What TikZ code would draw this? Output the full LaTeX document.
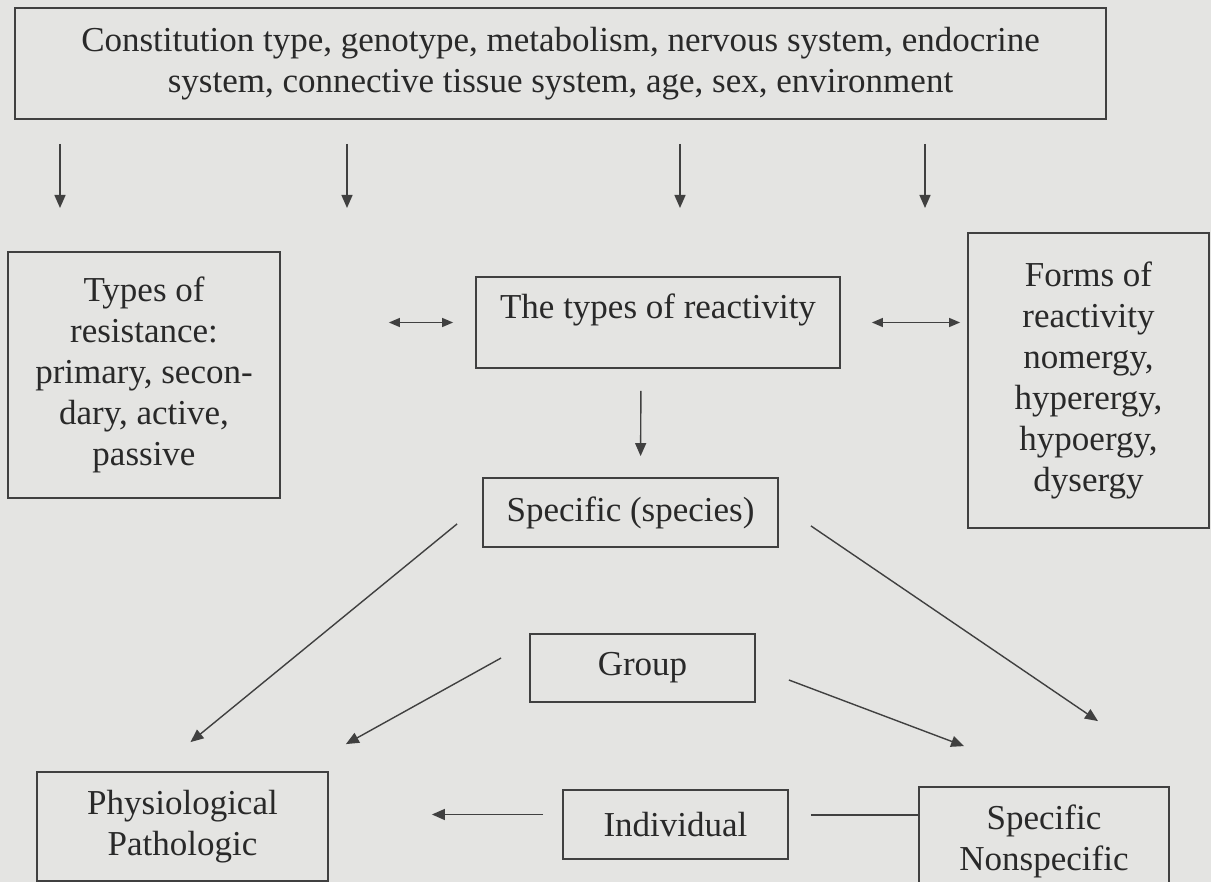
\documentclass[tikz,border=0pt]{standalone}
\usepackage{fontspec}
\setmainfont{Liberation Serif}
\usepackage{tikz}
\usetikzlibrary{arrows.meta, calc}
\definecolor{paper}{HTML}{E4E4E2}
\definecolor{ink}{HTML}{292929}
\definecolor{rule}{HTML}{404040}

\begin{document}
\begin{tikzpicture}[x=1pt, y=-1pt,
  bx/.style={draw=rule, line width=1.8pt, text=ink, align=center, inner sep=0pt,
             font=\fontsize{35}{41}\selectfont},
  arr/.style={-{Triangle[length=13pt, width=11pt]}, line width=1.4pt, color=rule},
  dbl/.style={{Triangle[length=11pt, width=9pt]}-{Triangle[length=11pt, width=9pt]}, line width=1.4pt, color=rule},
  ln/.style={line width=1.4pt, color=rule}
]
\useasboundingbox (0,0) rectangle (1211,882);
\fill[paper] (0,0) rectangle (1211,882);
\clip (0,0) rectangle (1211,882);

\node[bx, minimum width=1091pt, minimum height=111pt] (fac) at (560.5,63.5) {Constitution type, genotype, metabolism, nervous system, endocrine\\system, connective tissue system, age, sex, environment};
\node[bx, minimum width=272pt, minimum height=246pt] (res) at (144,375) {Types of\\resistance:\\primary, secon-\\dary, active,\\passive};
\node[bx, minimum width=364pt, minimum height=91pt, text height=24pt, text depth=32pt] (typ) at (658,322.5) {The types of reactivity};
\node[bx, minimum width=241pt, minimum height=295pt] (frm) at (1088.5,380.5) {Forms of\\reactivity\\nomergy,\\hyperergy,\\hypoergy,\\dysergy};
\node[bx, minimum width=295pt, minimum height=69pt] (spc) at (630.5,512.5) {Specific (species)};
\node[bx, minimum width=225pt, minimum height=68pt] (grp) at (642.5,668) {Group};
\node[bx, minimum width=291pt, minimum height=109pt] (phy) at (182.5,826.5) {Physiological\\Pathologic};
\node[bx, minimum width=225pt, minimum height=69pt] (ind) at (675.5,824.5) {Individual};
\node[bx, minimum width=250pt, minimum height=108pt] (spn) at (1044,841) {Specific\\Nonspecific};

\foreach \x [count=\i] in {60,347,680,925} \coordinate (d\i) at (\x,208);
\foreach \i in {1,...,4} \draw[arr, shorten <=24pt] (fac.south -| d\i) -- (d\i);

\draw[dbl, shorten <=108pt, shorten >=22pt] (res.east |- typ.west) -- (typ.west);
\draw[dbl, shorten <=31pt, shorten >=7pt] (typ.east) -- (frm.west |- typ.east);
\draw[arr, shorten <=22pt, shorten >=21pt] ([xshift=-17pt]typ.south) -- ([xshift=10pt]spc.north);

\draw[arr] ($(spc.south west)+(-25,-24)$) -- ($(phy.north)+(8,-29)$);
\draw[arr] ($(spc.south east)+(32,-22)$) -- ($(spn.north)+(54,-65)$);
\draw[arr] ($(grp.west)+(-28,-10)$) -- ($(phy.north east)+(17,-27)$);
\draw[arr] ($(grp.east)+(33,12)$) -- ($(spn.north west)+(46,-40)$);

\draw[arr, shorten <=19pt, shorten >=103pt] ([yshift=10pt]ind.west) -- ([yshift=10pt]ind.west -| phy.east);
\draw[ln, shorten <=22pt] ([yshift=9.5pt]ind.east) -- ([yshift=9.5pt]ind.east -| spn.west);
\end{tikzpicture}
\end{document}
